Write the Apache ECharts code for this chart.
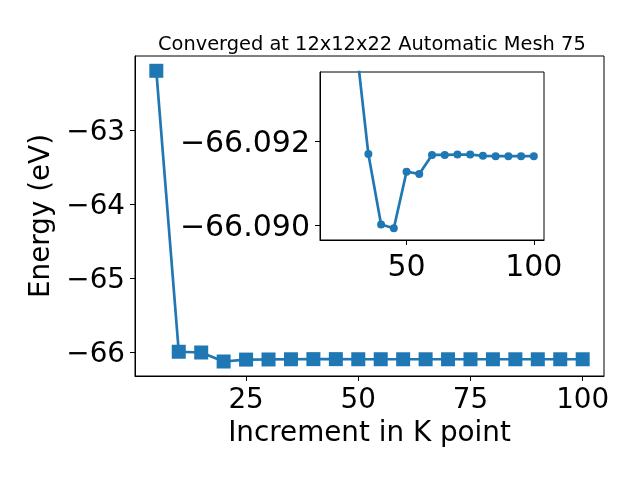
<!DOCTYPE html>
<html>
<head>
<meta charset="utf-8">
<script src="https://cdn.jsdelivr.net/npm/echarts@6/dist/echarts.min.js"></script>
<style>html,body{margin:0;padding:0;background:#fff}#c{width:640px;height:480px}</style>
</head>
<body>
<div id="c"></div>
<script>
const kPoints = [5,10,15,20,25,30,35,40,45,50,55,60,65,70,75,80,85,90,95,100];
const energy = [-62.19,-65.99,-66.00,-66.122,-66.096,-66.0944,-66.09170,-66.09003,-66.08994,-66.09128,-66.09123,-66.09168,-66.09168,-66.09169,-66.09169,-66.09166,-66.09165,-66.09165,-66.09165,-66.09165];
const insetStart = 20;
const mainXTicks = [25,50,75,100];
const mainYTicks = [-66,-65,-64,-63];
const insetXTicks = [50,100];
const insetYTicks = [-66.092,-66.090];
const titleText = 'Converged at 12x12x22 Automatic Mesh 75';
const xName = 'Increment in K point';
const yName = 'Energy (eV)';

const FONT = 'DejaVu Sans';
const BLUE = '#1f77b4';
const mainData = kPoints.map((k,i)=>[k,energy[i]]);
const insetData = kPoints.map((k,i)=>[k,energy[i]]).filter(d=>d[0]>=insetStart);
const fmt = (d)=> (v)=> (v<0?'\u2212':'') + Math.abs(v).toFixed(d);
const fmtR = (d)=> (v)=> '{v|' + fmt(d)(v) + '}';

const chart = echarts.init(document.getElementById('c'), null, {renderer:'canvas'});
const axisCommon = {
  axisLine:{show:true, onZero:false, lineStyle:{color:'#000', width:1}},
  axisTick:{show:true, inside:false, length:5, lineStyle:{color:'#000', width:1}},
  splitLine:{show:false}
};
chart.setOption({
  animation:false,
  backgroundColor:'#fff',
  title:{text:titleText, left:153, top:30,
    textStyle:{fontFamily:FONT, fontSize:19.4, fontWeight:'normal', color:'#000'}},
  grid:[
    {left:135, top:56, width:469, height:320, show:true, borderColor:'#000', borderWidth:1, backgroundColor:'#fff'},
    {left:320, top:72, width:224, height:168, show:true, borderColor:'#000', borderWidth:1, backgroundColor:'#fff', z:5}
  ],
  xAxis:[
    Object.assign({type:'value', gridIndex:0, min:0.25, max:104.75,
      name:xName, nameLocation:'middle', nameGap:44,
      nameTextStyle:{fontFamily:FONT, fontSize:27.8, color:'#000'},
      axisLabel:{fontFamily:FONT, fontSize:27.8, color:'#000', margin:11, customValues:mainXTicks, formatter:fmt(0)},
    }, axisCommon, {axisTick:Object.assign({}, axisCommon.axisTick, {customValues:mainXTicks})}),
    Object.assign({type:'value', gridIndex:1, min:16, max:104, z:6,
      axisLabel:{fontFamily:FONT, fontSize:30, color:'#000', margin:13, customValues:insetXTicks, formatter:fmt(0)},
    }, axisCommon, {axisTick:Object.assign({}, axisCommon.axisTick, {customValues:insetXTicks})})
  ],
  yAxis:[
    Object.assign({type:'value', gridIndex:0, min:-66.318, max:-61.99,
      name:yName, nameLocation:'middle', nameGap:71, nameRotate:90,
      nameTextStyle:{fontFamily:FONT, fontSize:27.8, color:'#000'},
      axisLabel:{color:'#000', margin:10, customValues:mainYTicks, formatter:fmtR(0),
        rich:{v:{fontFamily:FONT, fontSize:27.8, color:'#000', padding:[5,0,0,0]}}},
    }, axisCommon, {axisTick:Object.assign({}, axisCommon.axisTick, {customValues:mainYTicks})}),
    Object.assign({type:'value', gridIndex:1, inverse:true, min:-66.09365, max:-66.08966, z:6,
      axisLabel:{color:'#000', margin:10, customValues:insetYTicks, formatter:fmtR(3),
        rich:{v:{fontFamily:FONT, fontSize:30, color:'#000', padding:[5,0,0,0]}}},
    }, axisCommon, {axisTick:Object.assign({}, axisCommon.axisTick, {customValues:insetYTicks})})
  ],
  series:[
    {type:'line', xAxisIndex:0, yAxisIndex:0, data:mainData, symbol:'rect', symbolSize:14,
      lineStyle:{color:BLUE, width:2.7}, itemStyle:{color:BLUE}, z:2},
    {type:'line', xAxisIndex:1, yAxisIndex:1, data:insetData, symbol:'circle', symbolSize:8,
      lineStyle:{color:BLUE, width:2.7}, itemStyle:{color:BLUE}, clip:true, z:7}
  ]
});
</script>
</body>
</html>
